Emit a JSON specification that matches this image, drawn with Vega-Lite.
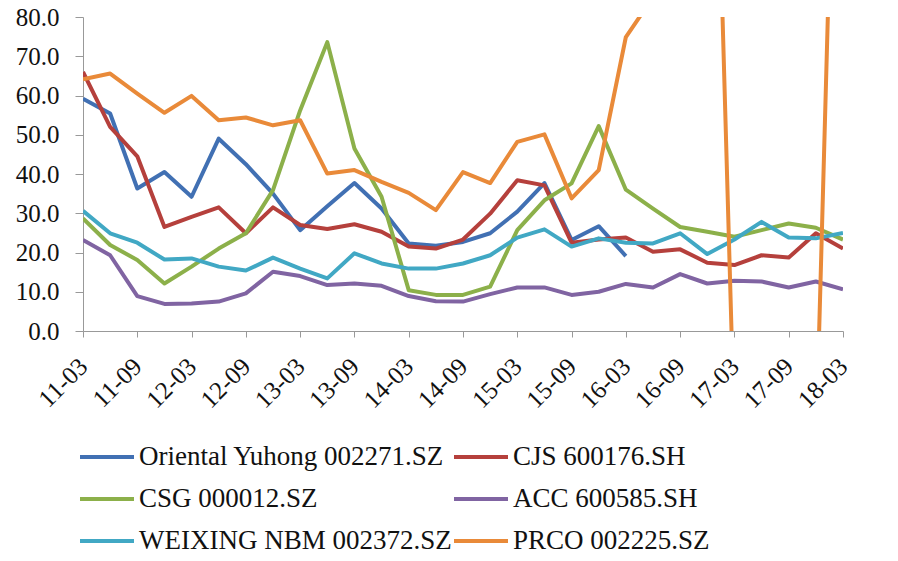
{
  "$schema": "https://vega.github.io/schema/vega-lite/v6.json",
  "width": 760,
  "height": 314,
  "autosize": {"type": "none"},
  "padding": {"left": 83, "top": 17, "right": 55, "bottom": 230},
  "background": "white",
  "config": {
    "view": {"stroke": null},
    "font": "Liberation Serif",
    "axis": {"grid": false, "domainColor": "#999999", "tickColor": "#999999", "labelColor": "#111111", "labelFont": "Liberation Serif", "title": null}
  },
  "data": {"values": [
    {"q":"11-03","s":"Oriental Yuhong 002271.SZ","v":59.2},{"q":"11-06","s":"Oriental Yuhong 002271.SZ","v":55.4},{"q":"11-09","s":"Oriental Yuhong 002271.SZ","v":36.3},{"q":"11-12","s":"Oriental Yuhong 002271.SZ","v":40.5},{"q":"12-03","s":"Oriental Yuhong 002271.SZ","v":34.2},{"q":"12-06","s":"Oriental Yuhong 002271.SZ","v":49.0},{"q":"12-09","s":"Oriental Yuhong 002271.SZ","v":42.5},{"q":"12-12","s":"Oriental Yuhong 002271.SZ","v":35.0},{"q":"13-03","s":"Oriental Yuhong 002271.SZ","v":25.7},{"q":"13-06","s":"Oriental Yuhong 002271.SZ","v":31.8},{"q":"13-09","s":"Oriental Yuhong 002271.SZ","v":37.7},{"q":"13-12","s":"Oriental Yuhong 002271.SZ","v":31.2},{"q":"14-03","s":"Oriental Yuhong 002271.SZ","v":22.3},{"q":"14-06","s":"Oriental Yuhong 002271.SZ","v":21.7},{"q":"14-09","s":"Oriental Yuhong 002271.SZ","v":22.7},{"q":"14-12","s":"Oriental Yuhong 002271.SZ","v":24.9},{"q":"15-03","s":"Oriental Yuhong 002271.SZ","v":30.4},{"q":"15-06","s":"Oriental Yuhong 002271.SZ","v":37.7},{"q":"15-09","s":"Oriental Yuhong 002271.SZ","v":23.2},{"q":"15-12","s":"Oriental Yuhong 002271.SZ","v":26.7},{"q":"16-03","s":"Oriental Yuhong 002271.SZ","v":19.1},
    {"q":"11-03","s":"CJS 600176.SH","v":66.0},{"q":"11-06","s":"CJS 600176.SH","v":52.0},{"q":"11-09","s":"CJS 600176.SH","v":44.5},{"q":"11-12","s":"CJS 600176.SH","v":26.5},{"q":"12-03","s":"CJS 600176.SH","v":29.1},{"q":"12-06","s":"CJS 600176.SH","v":31.5},{"q":"12-09","s":"CJS 600176.SH","v":24.9},{"q":"12-12","s":"CJS 600176.SH","v":31.5},{"q":"13-03","s":"CJS 600176.SH","v":27.0},{"q":"13-06","s":"CJS 600176.SH","v":26.0},{"q":"13-09","s":"CJS 600176.SH","v":27.2},{"q":"13-12","s":"CJS 600176.SH","v":25.3},{"q":"14-03","s":"CJS 600176.SH","v":21.5},{"q":"14-06","s":"CJS 600176.SH","v":21.0},{"q":"14-09","s":"CJS 600176.SH","v":23.3},{"q":"14-12","s":"CJS 600176.SH","v":29.9},{"q":"15-03","s":"CJS 600176.SH","v":38.4},{"q":"15-06","s":"CJS 600176.SH","v":37.1},{"q":"15-09","s":"CJS 600176.SH","v":22.5},{"q":"15-12","s":"CJS 600176.SH","v":23.3},{"q":"16-03","s":"CJS 600176.SH","v":23.8},{"q":"16-06","s":"CJS 600176.SH","v":20.2},{"q":"16-09","s":"CJS 600176.SH","v":20.8},{"q":"16-12","s":"CJS 600176.SH","v":17.4},{"q":"17-03","s":"CJS 600176.SH","v":16.8},{"q":"17-06","s":"CJS 600176.SH","v":19.3},{"q":"17-09","s":"CJS 600176.SH","v":18.7},{"q":"17-12","s":"CJS 600176.SH","v":24.9},{"q":"18-03","s":"CJS 600176.SH","v":21.0},
    {"q":"11-03","s":"CSG 000012.SZ","v":28.7},{"q":"11-06","s":"CSG 000012.SZ","v":21.9},{"q":"11-09","s":"CSG 000012.SZ","v":18.1},{"q":"11-12","s":"CSG 000012.SZ","v":12.1},{"q":"12-03","s":"CSG 000012.SZ","v":16.4},{"q":"12-06","s":"CSG 000012.SZ","v":21.0},{"q":"12-09","s":"CSG 000012.SZ","v":24.9},{"q":"12-12","s":"CSG 000012.SZ","v":35.9},{"q":"13-03","s":"CSG 000012.SZ","v":56.2},{"q":"13-06","s":"CSG 000012.SZ","v":73.6},{"q":"13-09","s":"CSG 000012.SZ","v":46.5},{"q":"13-12","s":"CSG 000012.SZ","v":34.2},{"q":"14-03","s":"CSG 000012.SZ","v":10.4},{"q":"14-06","s":"CSG 000012.SZ","v":9.2},{"q":"14-09","s":"CSG 000012.SZ","v":9.2},{"q":"14-12","s":"CSG 000012.SZ","v":11.3},{"q":"15-03","s":"CSG 000012.SZ","v":25.7},{"q":"15-06","s":"CSG 000012.SZ","v":33.3},{"q":"15-09","s":"CSG 000012.SZ","v":37.6},{"q":"15-12","s":"CSG 000012.SZ","v":52.2},{"q":"16-03","s":"CSG 000012.SZ","v":36.0},{"q":"16-06","s":"CSG 000012.SZ","v":31.2},{"q":"16-09","s":"CSG 000012.SZ","v":26.5},{"q":"16-12","s":"CSG 000012.SZ","v":25.3},{"q":"17-03","s":"CSG 000012.SZ","v":24.0},{"q":"17-06","s":"CSG 000012.SZ","v":25.7},{"q":"17-09","s":"CSG 000012.SZ","v":27.4},{"q":"17-12","s":"CSG 000012.SZ","v":26.3},{"q":"18-03","s":"CSG 000012.SZ","v":23.3},
    {"q":"11-03","s":"ACC 600585.SH","v":23.2},{"q":"11-06","s":"ACC 600585.SH","v":19.3},{"q":"11-09","s":"ACC 600585.SH","v":8.9},{"q":"11-12","s":"ACC 600585.SH","v":6.9},{"q":"12-03","s":"ACC 600585.SH","v":7.0},{"q":"12-06","s":"ACC 600585.SH","v":7.5},{"q":"12-09","s":"ACC 600585.SH","v":9.6},{"q":"12-12","s":"ACC 600585.SH","v":15.1},{"q":"13-03","s":"ACC 600585.SH","v":14.0},{"q":"13-06","s":"ACC 600585.SH","v":11.7},{"q":"13-09","s":"ACC 600585.SH","v":12.1},{"q":"13-12","s":"ACC 600585.SH","v":11.5},{"q":"14-03","s":"ACC 600585.SH","v":8.9},{"q":"14-06","s":"ACC 600585.SH","v":7.6},{"q":"14-09","s":"ACC 600585.SH","v":7.5},{"q":"14-12","s":"ACC 600585.SH","v":9.4},{"q":"15-03","s":"ACC 600585.SH","v":11.1},{"q":"15-06","s":"ACC 600585.SH","v":11.1},{"q":"15-09","s":"ACC 600585.SH","v":9.2},{"q":"15-12","s":"ACC 600585.SH","v":10.0},{"q":"16-03","s":"ACC 600585.SH","v":12.0},{"q":"16-06","s":"ACC 600585.SH","v":11.1},{"q":"16-09","s":"ACC 600585.SH","v":14.5},{"q":"16-12","s":"ACC 600585.SH","v":12.1},{"q":"17-03","s":"ACC 600585.SH","v":12.8},{"q":"17-06","s":"ACC 600585.SH","v":12.6},{"q":"17-09","s":"ACC 600585.SH","v":11.1},{"q":"17-12","s":"ACC 600585.SH","v":12.6},{"q":"18-03","s":"ACC 600585.SH","v":10.6},
    {"q":"11-03","s":"WEIXING NBM 002372.SZ","v":30.6},{"q":"11-06","s":"WEIXING NBM 002372.SZ","v":24.9},{"q":"11-09","s":"WEIXING NBM 002372.SZ","v":22.5},{"q":"11-12","s":"WEIXING NBM 002372.SZ","v":18.2},{"q":"12-03","s":"WEIXING NBM 002372.SZ","v":18.5},{"q":"12-06","s":"WEIXING NBM 002372.SZ","v":16.4},{"q":"12-09","s":"WEIXING NBM 002372.SZ","v":15.4},{"q":"12-12","s":"WEIXING NBM 002372.SZ","v":18.7},{"q":"13-03","s":"WEIXING NBM 002372.SZ","v":15.9},{"q":"13-06","s":"WEIXING NBM 002372.SZ","v":13.4},{"q":"13-09","s":"WEIXING NBM 002372.SZ","v":19.8},{"q":"13-12","s":"WEIXING NBM 002372.SZ","v":17.2},{"q":"14-03","s":"WEIXING NBM 002372.SZ","v":15.9},{"q":"14-06","s":"WEIXING NBM 002372.SZ","v":15.9},{"q":"14-09","s":"WEIXING NBM 002372.SZ","v":17.2},{"q":"14-12","s":"WEIXING NBM 002372.SZ","v":19.3},{"q":"15-03","s":"WEIXING NBM 002372.SZ","v":23.8},{"q":"15-06","s":"WEIXING NBM 002372.SZ","v":25.9},{"q":"15-09","s":"WEIXING NBM 002372.SZ","v":21.5},{"q":"15-12","s":"WEIXING NBM 002372.SZ","v":23.6},{"q":"16-03","s":"WEIXING NBM 002372.SZ","v":22.5},{"q":"16-06","s":"WEIXING NBM 002372.SZ","v":22.3},{"q":"16-09","s":"WEIXING NBM 002372.SZ","v":24.9},{"q":"16-12","s":"WEIXING NBM 002372.SZ","v":19.6},{"q":"17-03","s":"WEIXING NBM 002372.SZ","v":23.3},{"q":"17-06","s":"WEIXING NBM 002372.SZ","v":27.8},{"q":"17-09","s":"WEIXING NBM 002372.SZ","v":23.8},{"q":"17-12","s":"WEIXING NBM 002372.SZ","v":23.6},{"q":"18-03","s":"WEIXING NBM 002372.SZ","v":25.0},
    {"q":"11-03","s":"PRCO 002225.SZ","v":64.1},{"q":"11-06","s":"PRCO 002225.SZ","v":65.6},{"q":"11-09","s":"PRCO 002225.SZ","v":60.5},{"q":"11-12","s":"PRCO 002225.SZ","v":55.6},{"q":"12-03","s":"PRCO 002225.SZ","v":59.9},{"q":"12-06","s":"PRCO 002225.SZ","v":53.7},{"q":"12-09","s":"PRCO 002225.SZ","v":54.4},{"q":"12-12","s":"PRCO 002225.SZ","v":52.4},{"q":"13-03","s":"PRCO 002225.SZ","v":53.7},{"q":"13-06","s":"PRCO 002225.SZ","v":40.1},{"q":"13-09","s":"PRCO 002225.SZ","v":41.0},{"q":"13-12","s":"PRCO 002225.SZ","v":38.0},{"q":"14-03","s":"PRCO 002225.SZ","v":35.2},{"q":"14-06","s":"PRCO 002225.SZ","v":30.8},{"q":"14-09","s":"PRCO 002225.SZ","v":40.5},{"q":"14-12","s":"PRCO 002225.SZ","v":37.7},{"q":"15-03","s":"PRCO 002225.SZ","v":48.2},{"q":"15-06","s":"PRCO 002225.SZ","v":50.1},{"q":"15-09","s":"PRCO 002225.SZ","v":33.8},{"q":"15-12","s":"PRCO 002225.SZ","v":41.0},{"q":"16-03","s":"PRCO 002225.SZ","v":74.9},{"q":"16-06","s":"PRCO 002225.SZ","v":85.0},{"q":"16-09","s":"PRCO 002225.SZ","v":150.0},{"q":"16-12","s":"PRCO 002225.SZ","v":216.0},{"q":"17-03","s":"PRCO 002225.SZ","v":-26.0},{"q":"17-06","s":"PRCO 002225.SZ","v":-30.0},{"q":"17-09","s":"PRCO 002225.SZ","v":-30.0},{"q":"17-12","s":"PRCO 002225.SZ","v":-30.4},{"q":"18-03","s":"PRCO 002225.SZ","v":220.0}
  ]},
  "mark": {"type": "line", "strokeWidth": 4, "clip": true, "strokeJoin": "round"},
  "encoding": {
    "x": {
      "field": "q", "type": "ordinal", "sort": null,
      "scale": {"type": "point", "padding": 0},
      "axis": {
        "values": ["11-03","11-09","12-03","12-09","13-03","13-09","14-03","14-09","15-03","15-09","16-03","16-09","17-03","17-09","18-03"],
        "labelAngle": -45, "labelAlign": "right", "labelBaseline": "middle",
        "labelFontSize": 25, "labelPadding": 25, "tickSize": 6, "labelOverlap": false
      }
    },
    "y": {
      "field": "v", "type": "quantitative",
      "scale": {"domain": [0, 80], "nice": false, "zero": false},
      "axis": {"values": [0,10,20,30,40,50,60,70,80], "format": ".1f", "labelFontSize": 25, "tickSize": 8, "labelPadding": 16}
    },
    "color": {
      "field": "s", "type": "nominal",
      "scale": {
        "domain": ["Oriental Yuhong 002271.SZ","CJS 600176.SH","CSG 000012.SZ","ACC 600585.SH","WEIXING NBM 002372.SZ","PRCO 002225.SZ"],
        "range": ["#4170B3","#B5403C","#8CB04A","#8064A2","#41A8C4","#E98A39"]
      },
      "legend": {
        "title": null, "orient": "none", "legendX": -5, "legendY": 411, "direction": "horizontal",
        "columns": 2, "columnPadding": -7, "rowPadding": -10,
        "symbolType": "stroke", "symbolSize": 2916, "symbolStrokeWidth": 4,
        "labelFont": "Liberation Serif", "labelFontSize": 27, "labelColor": "#111111",
        "labelOffset": 3, "labelLimit": 500
      }
    }
  }
}
